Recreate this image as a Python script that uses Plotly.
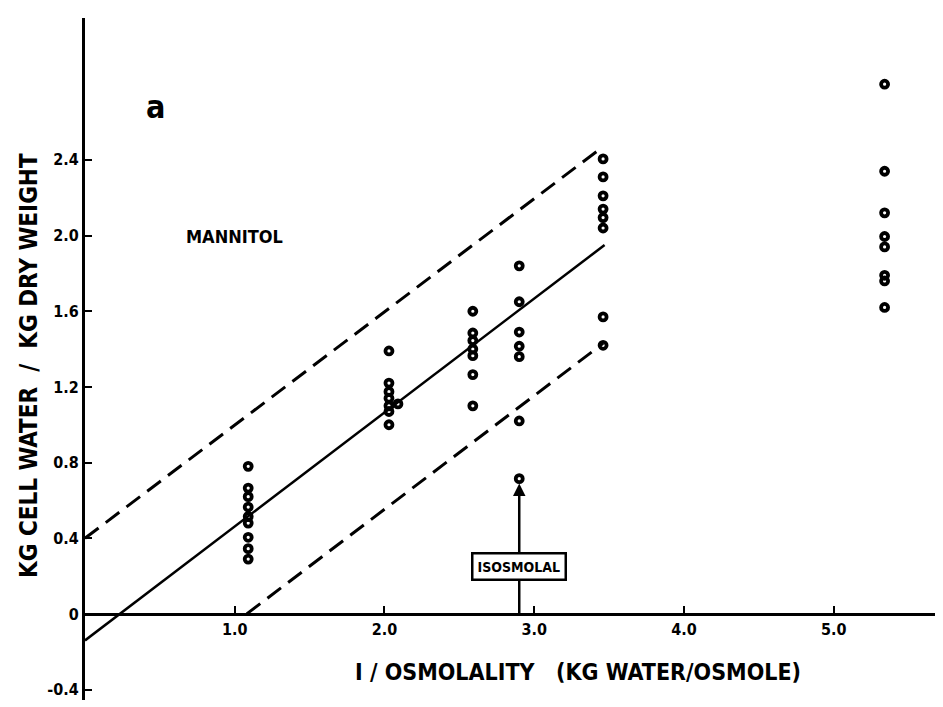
import plotly.graph_objects as go

# ---- data ----
col_x = [1.09, 2.03, 2.59, 2.90, 3.46, 5.34]
col_vals = [
    [0.78, 0.665, 0.62, 0.565, 0.515, 0.48, 0.405, 0.345, 0.29],
    [1.39, 1.22, 1.175, 1.14, 1.10, 1.07, 1.00],
    [1.60, 1.485, 1.445, 1.40, 1.365, 1.265, 1.10],
    [1.84, 1.65, 1.49, 1.415, 1.36, 1.02, 0.715],
    [2.405, 2.31, 2.21, 2.14, 2.095, 2.04, 1.57, 1.42],
    [2.80, 2.34, 2.12, 1.995, 1.94, 1.79, 1.76, 1.62],
]
extra_x = [2.09]
extra_y = [1.11]

fit_x = [0.0, 3.47]
fit_y = [-0.14, 1.95]
upper_x = [0.0, 3.46]
upper_y = [0.40, 2.47]
lower_x = [1.08, 3.46]
lower_y = [0.0, 1.43]

x_ticks = [1.0, 2.0, 3.0, 4.0, 5.0]
x_tick_text = ["1.0", "2.0", "3.0", "4.0", "5.0"]
y_ticks = [-0.4, 0, 0.4, 0.8, 1.2, 1.6, 2.0, 2.4]
y_tick_text = ["-0.4", "0", "0.4", "0.8", "1.2", "1.6", "2.0", "2.4"]

isosmolal_x = 2.90
x_range = [0, 5.73]
y_range = [-0.455, 3.15]

FONT = "DejaVu Sans Condensed, DejaVu Sans, sans-serif"

pts_x, pts_y = [], []
for cx, vals in zip(col_x, col_vals):
    pts_x += [cx] * len(vals)
    pts_y += vals
pts_x += extra_x
pts_y += extra_y

fig = go.Figure()
fig.add_trace(go.Scatter(x=upper_x, y=upper_y, mode="lines",
                         line=dict(color="black", width=3, dash="17px,9px"),
                         hoverinfo="skip"))
fig.add_trace(go.Scatter(x=lower_x, y=lower_y, mode="lines",
                         line=dict(color="black", width=3, dash="17px,9px"),
                         hoverinfo="skip"))
fig.add_trace(go.Scatter(x=fit_x, y=fit_y, mode="lines",
                         line=dict(color="black", width=2.5),
                         hoverinfo="skip"))
fig.add_trace(go.Scatter(x=pts_x, y=pts_y, mode="markers",
                         marker=dict(symbol="circle-open", size=7,
                                     color="black", line=dict(width=3.8, color="black"))))

xpos = (0 - y_range[0]) / (y_range[1] - y_range[0])

fig.update_layout(
    width=935, height=699,
    margin=dict(l=77, r=0, t=10, b=7),
    paper_bgcolor="white", plot_bgcolor="white",
    showlegend=False,
    font=dict(family=FONT, color="black", size=14, weight="bold"),
    xaxis=dict(range=x_range, anchor="free", position=xpos,
               showline=True, linecolor="black", linewidth=3,
               ticks="inside", ticklen=7, tickwidth=2, tickcolor="black",
               tickvals=x_ticks, ticktext=x_tick_text,
               tickfont=dict(family=FONT, size=16, weight="bold"),
               showgrid=False, zeroline=False, automargin=False),
    yaxis=dict(range=y_range,
               showline=True, linecolor="black", linewidth=3,
               ticks="inside", ticklen=7, tickwidth=2, tickcolor="black",
               tickvals=y_ticks, ticktext=y_tick_text,
               tickfont=dict(family=FONT, size=16, weight="bold"),
               showgrid=False, zeroline=False, automargin=False),
)

# line from axis up to the ISOSMOLAL box
fig.add_shape(type="line", x0=isosmolal_x, x1=isosmolal_x, y0=0, y1=0.2,
              xref="x", yref="y", line=dict(color="black", width=2.5))

fig.add_annotation(x=isosmolal_x, y=0.69, ax=isosmolal_x, ay=0.25,
                   xref="x", yref="y", axref="x", ayref="y",
                   text="ISOSMOLAL", showarrow=True, arrowhead=2, arrowsize=1,
                   arrowwidth=2.5, arrowcolor="black",
                   bordercolor="black", borderwidth=2.5, borderpad=4,
                   bgcolor="white",
                   font=dict(family=FONT, size=14, weight="bold"))

fig.add_annotation(x=0.47, y=2.68, xref="x", yref="y", text="a",
                   showarrow=False, font=dict(family=FONT, size=32, weight="bold"))
fig.add_annotation(x=1.0, y=1.995, xref="x", yref="y", text="MANNITOL",
                   showarrow=False, font=dict(family=FONT, size=18, weight="bold"))
fig.add_annotation(x=3.29, y=-0.305, xref="x", yref="y",
                   text="I / OSMOLALITY   (KG WATER/OSMOLE)",
                   showarrow=False, font=dict(family=FONT, size=23, weight="bold"))
fig.add_annotation(x=-0.084, y=0.491, xref="paper", yref="paper",
                   text="KG CELL WATER  /  KG DRY WEIGHT", textangle=-90,
                   showarrow=False, font=dict(family=FONT, size=24, weight="bold"))

fig.write_html("out.html")
